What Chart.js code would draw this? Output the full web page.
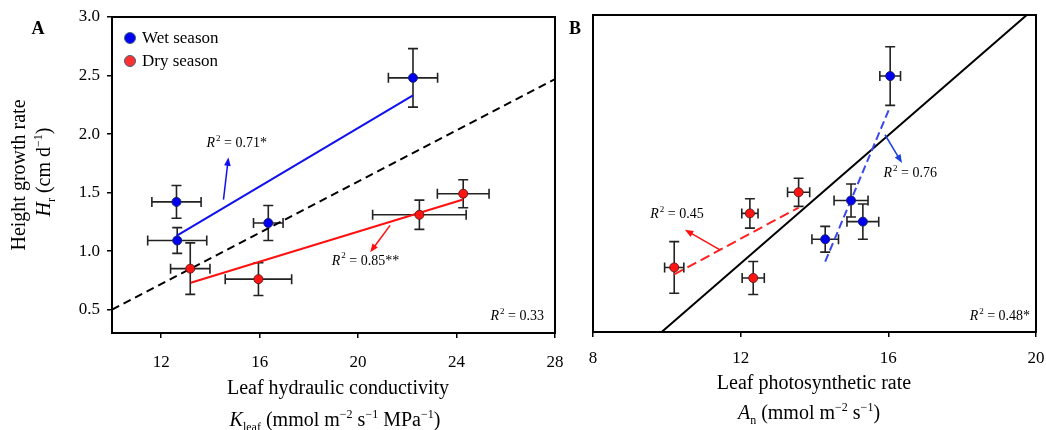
<!DOCTYPE html>
<html>
<head>
<meta charset="utf-8">
<script src="https://cdn.jsdelivr.net/npm/chart.js@4.4.0/dist/chart.umd.min.js"></script>
<style>
  body { margin: 0; background: #fff; }
  #wrap { position: relative; width: 1046px; height: 430px; overflow: hidden;
          font-family: "Liberation Serif", "Times New Roman", serif; color: #000; }
  canvas { position: absolute; top: 0; }
  #chartA { left: 0; }
  #chartB { left: 575px; }
  .lbl { position: absolute; white-space: nowrap; transform: translate(-50%, -50%); font-size: 20px; line-height: 1; }
  .rot { transform: translate(-50%, -50%) rotate(-90deg); }
  .panel { font-weight: bold; font-size: 18px; }
  .lbl sub, .lbl sup { font-size: 12px; line-height: 0; }
  .legend { position: absolute; left: 124px; font-size: 17px; white-space: nowrap; line-height: 1; }
  .legend i { display: inline-block; width: 10px; height: 10px; border-radius: 50%;
              border: 1px solid #3c6478; vertical-align: -1px; margin-right: 6px; }
</style>
</head>
<body>
<div id="wrap">
  <canvas id="chartA" width="575" height="430"></canvas>
  <canvas id="chartB" width="471" height="430"></canvas>

  <div class="lbl panel" style="left:38px; top:28px;">A</div>
  <div class="lbl panel" style="left:575px; top:28px;">B</div>

  <div class="lbl rot" style="left:18px; top:175px;">Height growth rate</div>
  <div class="lbl rot" style="left:43px; top:172px;"><i>H</i><sub>r</sub> (cm d<sup>−1</sup>)</div>

  <div class="lbl" style="left:338px; top:387px;">Leaf hydraulic conductivity</div>
  <div class="lbl" style="left:335px; top:419px;"><i>K</i><sub>leaf</sub> (mmol m<sup>−2</sup> s<sup>−1</sup> MPa<sup>−1</sup>)</div>

  <div class="lbl" style="left:814px; top:382px;">Leaf photosynthetic rate</div>
  <div class="lbl" style="left:809px; top:412px;"><i>A</i><sub>n</sub> (mmol m<sup>−2</sup> s<sup>−1</sup>)</div>

  <div class="legend" style="top:29px;"><i style="background:#0000f5"></i>Wet season</div>
  <div class="legend" style="top:52px;"><i style="background:#ff3030"></i>Dry season</div>
</div>

<script>
// height growth rate (cm/d), shared by both panels
const hrWet = [1.42, 1.09, 1.24, 2.48];
const hrWetErr = [0.14, 0.11, 0.15, 0.25];
const hrDry = [0.85, 0.76, 1.31, 1.49];
const hrDryErr = [0.22, 0.14, 0.125, 0.12];

// panel A: leaf hydraulic conductivity
const kleafWet = [12.62, 12.65, 16.35, 22.23];
const kleafWetErr = [1.0, 1.2, 0.6, 1.0];
const kleafDry = [13.18, 15.95, 22.49, 24.27];
const kleafDryErr = [0.8, 1.35, 1.9, 1.05];

// panel B: leaf photosynthetic rate
const anWet = [14.99, 14.29, 15.31, 16.05];
const anWetErr = [0.46, 0.36, 0.43, 0.28];
const anDry = [10.2, 12.34, 12.25, 13.57];
const anDryErr = [0.26, 0.3, 0.22, 0.3];

// regression lines, end points
const fitWetA = { x: [12.62, 22.23], y: [1.13, 2.33] };
const fitDryA = { x: [13.2, 24.27], y: [0.73, 1.44] };
const fitAllA = { x: [10, 28], y: [0.5, 2.47] };
const fitAllB = { x: [9.86, 19.75], y: [0.3, 3.0] };
const fitDryB = { x: [10.2, 13.57], y: [0.79, 1.36] };
const fitWetB = { x: [14.29, 16.05], y: [0.9, 2.22] };

// axis ticks
const yTicks = [0.5, 1.0, 1.5, 2.0, 2.5, 3.0];
const xTicksA = [12, 16, 20, 24, 28];
const xTicksB = [8, 12, 16, 20];

const BLUE = '#0000f0';
const RED = '#ff1414';
const FONT = '"Liberation Serif", "Times New Roman", serif';

Chart.defaults.font.family = FONT;
Chart.defaults.color = '#000';

function pts(xs, ys) {
    return xs.map((x, i) => ({ x: x, y: ys[i] }));
}

function fitLine(fit, color, dash) {
    return {
        data: pts(fit.x, fit.y),
        showLine: true,
        borderColor: color,
        borderWidth: 2,
        borderDash: dash || [],
        pointRadius: 0
    };
}

function markers(xs, ys, color, edge) {
    return {
        data: pts(xs, ys),
        backgroundColor: color,
        borderColor: edge,
        borderWidth: 1,
        pointRadius: 4.5
    };
}

// R^2 label: italic R, superscript 2, then the value
function drawR2(ctx, x, y, value, align) {
    const fR = 'italic 14px ' + FONT, fS = '9px ' + FONT, fT = '14px ' + FONT;
    const rest = ' = ' + value;
    ctx.font = fR; const wR = ctx.measureText('R').width;
    ctx.font = fS; const wS = ctx.measureText('2').width;
    ctx.font = fT; const wT = ctx.measureText(rest).width;
    const sx = align === 'right' ? x - (wR + wS + wT + 1) : x;
    ctx.textAlign = 'left';
    ctx.textBaseline = 'middle';
    ctx.fillStyle = '#000';
    ctx.font = fR; ctx.fillText('R', sx, y);
    ctx.font = fS; ctx.fillText('2', sx + wR + 1, y - 5);
    ctx.font = fT; ctx.fillText(rest, sx + wR + wS + 1, y);
}

function drawArrow(ctx, x0, y0, x1, y1, color) {
    const ang = Math.atan2(y1 - y0, x1 - x0);
    const head = 9;
    ctx.save();
    ctx.strokeStyle = color;
    ctx.fillStyle = color;
    ctx.lineWidth = 1.5;
    ctx.beginPath();
    ctx.moveTo(x0, y0);
    ctx.lineTo(x1 - Math.cos(ang) * head * 0.7, y1 - Math.sin(ang) * head * 0.7);
    ctx.stroke();
    ctx.beginPath();
    ctx.moveTo(x1, y1);
    ctx.lineTo(x1 - head * Math.cos(ang - 0.38), y1 - head * Math.sin(ang - 0.38));
    ctx.lineTo(x1 - head * Math.cos(ang + 0.38), y1 - head * Math.sin(ang + 0.38));
    ctx.closePath();
    ctx.fill();
    ctx.restore();
}

// error bars, drawn under the markers
const errorBars = {
    id: 'errorBars',
    beforeDatasetsDraw(chart, args, opts) {
        const ctx = chart.ctx, sx = chart.scales.x, sy = chart.scales.y;
        const cap = 5;
        ctx.save();
        ctx.strokeStyle = '#222';
        ctx.lineWidth = 1.6;
        opts.sets.forEach(s => {
            s.x.forEach((xv, i) => {
                const px = sx.getPixelForValue(xv), py = sy.getPixelForValue(s.y[i]);
                const x0 = sx.getPixelForValue(xv - s.xe[i]), x1 = sx.getPixelForValue(xv + s.xe[i]);
                const y0 = sy.getPixelForValue(s.y[i] - s.ye[i]), y1 = sy.getPixelForValue(s.y[i] + s.ye[i]);
                ctx.beginPath();
                ctx.moveTo(x0, py); ctx.lineTo(x1, py);
                ctx.moveTo(x0, py - cap); ctx.lineTo(x0, py + cap);
                ctx.moveTo(x1, py - cap); ctx.lineTo(x1, py + cap);
                ctx.moveTo(px, y0); ctx.lineTo(px, y1);
                ctx.moveTo(px - cap, y0); ctx.lineTo(px + cap, y0);
                ctx.moveTo(px - cap, y1); ctx.lineTo(px + cap, y1);
                ctx.stroke();
            });
        });
        ctx.restore();
    }
};

// box around the plot, R^2 labels and arrows
const notes = {
    id: 'notes',
    afterDatasetsDraw(chart, args, opts) {
        const ctx = chart.ctx, sx = chart.scales.x, sy = chart.scales.y;
        const a = chart.chartArea;
        ctx.save();
        ctx.strokeStyle = '#000';
        ctx.lineWidth = 2;
        ctx.strokeRect(a.left, a.top, a.right - a.left, a.bottom - a.top);
        opts.items.forEach(n => {
            if (n.arrow) {
                drawArrow(ctx,
                    sx.getPixelForValue(n.arrow[0][0]), sy.getPixelForValue(n.arrow[0][1]),
                    sx.getPixelForValue(n.arrow[1][0]), sy.getPixelForValue(n.arrow[1][1]), n.color);
            }
            drawR2(ctx, sx.getPixelForValue(n.at[0]), sy.getPixelForValue(n.at[1]), n.text, n.align);
        });
        ctx.restore();
    }
};

// fixed axis sizes; the plot box comes from layout padding only
function fixSize(scale, w, h) {
    if (w !== null) scale.width = w;
    if (h !== null) scale.height = h;
    scale.paddingLeft = 0;
    scale.paddingRight = 0;
    scale.paddingTop = 0;
    scale.paddingBottom = 0;
}

function makePanel(canvasId, cfg) {
    return new Chart(document.getElementById(canvasId), {
        type: 'scatter',
        data: { datasets: cfg.datasets },
        options: {
            responsive: false,
            animation: false,
            layout: { padding: cfg.padding },
            plugins: {
                legend: { display: false },
                tooltip: { enabled: false },
                errorBars: { sets: cfg.errors },
                notes: { items: cfg.notes }
            },
            scales: {
                x: {
                    type: 'linear',
                    min: cfg.xMin, max: cfg.xMax,
                    afterBuildTicks: (scale) => { scale.ticks = cfg.xTicks.map(v => ({ value: v })); },
                    afterFit: (scale) => fixSize(scale, null, cfg.xHeight),
                    ticks: { font: { size: 17 }, padding: cfg.xPad, maxRotation: 0 },
                    grid: { drawOnChartArea: false, tickLength: 5, color: '#000', lineWidth: 1.5 },
                    border: { display: false }
                },
                y: {
                    type: 'linear',
                    min: 0.3, max: 3.0,
                    afterBuildTicks: (scale) => { scale.ticks = yTicks.map(v => ({ value: v })); },
                    afterFit: (scale) => fixSize(scale, cfg.yWidth, null),
                    ticks: { display: cfg.yLabels, font: { size: 17 }, padding: 7, callback: v => v.toFixed(1) },
                    grid: { display: cfg.yLabels, drawOnChartArea: false, tickLength: 5, color: '#000', lineWidth: 1.5 },
                    border: { display: false }
                }
            }
        },
        plugins: [errorBars, notes]
    });
}

makePanel('chartA', {
    xMin: 10, xMax: 28, xTicks: xTicksA, xHeight: 97, xPad: 14,
    yWidth: 112, yLabels: true,
    padding: { top: 17, right: 20, left: 0, bottom: 0 },
    datasets: [
        markers(kleafWet, hrWet, BLUE, '#1a2270'),
        markers(kleafDry, hrDry, RED, '#6a1a1a'),
        fitLine(fitWetA, '#1010f0'),
        fitLine(fitDryA, '#ff1010'),
        fitLine(fitAllA, '#000', [8, 5])
    ],
    errors: [
        { x: kleafWet, y: hrWet, xe: kleafWetErr, ye: hrWetErr },
        { x: kleafDry, y: hrDry, xe: kleafDryErr, ye: hrDryErr }
    ],
    notes: [
        { text: '0.71*', at: [13.84, 1.92], align: 'left', color: '#1010f0', arrow: [[14.53, 1.44], [14.73, 1.80]] },
        { text: '0.85**', at: [18.93, 0.915], align: 'left', color: '#ff1010', arrow: [[21.3, 1.22], [20.49, 0.99]] },
        { text: '0.33', at: [27.55, 0.44], align: 'right' }
    ]
});

makePanel('chartB', {
    xMin: 8, xMax: 20, xTicks: xTicksB, xHeight: 98, xPad: 11,
    yWidth: 18, yLabels: false,
    padding: { top: 15, right: 10, left: 0, bottom: 0 },
    datasets: [
        markers(anWet, hrWet, BLUE, '#1a2270'),
        markers(anDry, hrDry, RED, '#6a1a1a'),
        fitLine(fitWetB, '#3a48f0', [8, 4]),
        fitLine(fitDryB, '#ff2020', [10, 5]),
        fitLine(fitAllB, '#000')
    ],
    errors: [
        { x: anWet, y: hrWet, xe: anWetErr, ye: hrWetErr },
        { x: anDry, y: hrDry, xe: anDryErr, ye: hrDryErr }
    ],
    notes: [
        { text: '0.45', at: [9.55, 1.30], align: 'left', color: '#ff1010', arrow: [[11.44, 1.0], [10.49, 1.17]] },
        { text: '0.76', at: [15.87, 1.65], align: 'left', color: '#1a40e0', arrow: [[15.91, 1.98], [16.37, 1.74]] },
        { text: '0.48*', at: [19.84, 0.43], align: 'right' }
    ]
});
</script>
</body>
</html>
